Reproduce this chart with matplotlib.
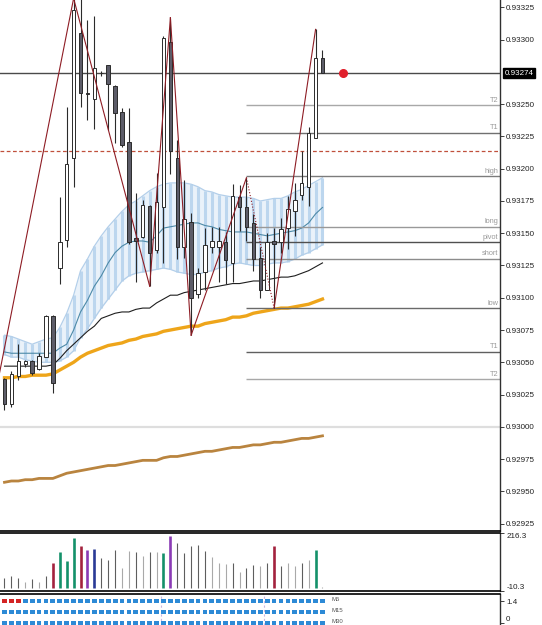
import numpy as np
import matplotlib
matplotlib.use("Agg")
import matplotlib.pyplot as plt

plt.rcParams["font.family"] = ["Liberation Sans", "DejaVu Sans"]

PT = 1e-5  # one price point; all price arrays below are in points (0.93037 -> 93037)

# ----- candles -----
open_pts = [93037, 93018, 93039, 93049, 93051, 93045, 93054, 93086, 93123, 93145,
            93208, 93305, 93259, 93254, 93274, 93280, 93264, 93244, 93221, 93146,
            93147, 93171, 93137, 93170, 93298, 93208, 93139, 93159, 93103, 93120,
            93139, 93139, 93143, 93127, 93178, 93170, 93158, 93131, 93106, 93144,
            93143, 93154, 93167, 93180, 93186, 93224, 93286]
high_pts = [93038, 93043, 93064, 93052, 93052, 93057, 93087, 93087, 93178, 93248,
            93332, 93332, 93315, 93318, 93276, 93280, 93265, 93247, 93247, 93181,
            93176, 93172, 93197, 93303, 93317, 93222, 93191, 93166, 93123, 93154,
            93155, 93155, 93151, 93188, 93187, 93193, 93165, 93139, 93150, 93154,
            93162, 93179, 93189, 93214, 93232, 93308, 93292]
low_pts = [93013, 93015, 93036, 93046, 93040, 93044, 93054, 93026, 93111, 93139,
           93186, 93248, 93238, 93231, 93272, 93230, 93220, 93217, 93142, 93112,
           93146, 93109, 93135, 93127, 93196, 93130, 93131, 93071, 93100, 93106,
           93135, 93112, 93111, 93112, 93152, 93144, 93121, 93100, 93106, 93092,
           93135, 93138, 93148, 93176, 93171, 93224, 93274]
close_pts = [93018, 93041, 93051, 93051, 93042, 93055, 93086, 93034, 93143, 93204,
             93323, 93259, 93258, 93278, 93274, 93266, 93243, 93218, 93143, 93144,
             93172, 93135, 93174, 93301, 93214, 93139, 93161, 93100, 93119, 93141,
             93144, 93144, 93129, 93179, 93170, 93155, 93130, 93106, 93143, 93142,
             93153, 93169, 93176, 93189, 93228, 93286, 93274]

# ----- indicators on the price panel -----
band_upper = [93071, 93070, 93068, 93066, 93064, 93066, 93068, 93069, 93077, 93088,
              93102, 93121, 93130, 93140, 93148, 93155, 93161, 93167, 93172, 93175,
              93179, 93183, 93186, 93188, 93189, 93189, 93189, 93188, 93186, 93183,
              93182, 93180, 93179, 93178, 93178, 93178, 93177, 93175, 93176, 93177,
              93177, 93179, 93182, 93184, 93187, 93190, 93193]
band_lower = [93056, 93054, 93054, 93052, 93051, 93050, 93050, 93050, 93051, 93054,
              93059, 93069, 93076, 93084, 93092, 93099, 93106, 93113, 93117, 93119,
              93120, 93121, 93122, 93123, 93122, 93120, 93119, 93118, 93118, 93120,
              93121, 93123, 93124, 93126, 93127, 93126, 93125, 93125, 93126, 93127,
              93127, 93128, 93130, 93133, 93135, 93138, 93141]
band_mid = [93058, 93057, 93057, 93057, 93057, 93057, 93057, 93057, 93061, 93064,
            93075, 93089, 93098, 93109, 93117, 93127, 93135, 93140, 93143, 93144,
            93144, 93143, 93148, 93154, 93155, 93156, 93157, 93158, 93158, 93156,
            93155, 93153, 93152, 93151, 93151, 93151, 93150, 93149, 93148, 93149,
            93150, 93151, 93152, 93154, 93158, 93165, 93170]
ma_black = [93047, 93047, 93047, 93047, 93047, 93047, 93047, 93048, 93053, 93059,
            93064, 93069, 93074, 93078, 93084, 93086, 93088, 93089, 93089, 93091,
            93092, 93092, 93096, 93099, 93102, 93102, 93104, 93105, 93106, 93107,
            93108, 93109, 93110, 93111, 93111, 93112, 93113, 93113, 93114, 93115,
            93116, 93116, 93117, 93119, 93121, 93124, 93127]
ma_orange = [93038, 93038, 93039, 93039, 93040, 93040, 93040, 93041, 93044, 93047,
             93050, 93054, 93057, 93059, 93061, 93063, 93064, 93065, 93067, 93068,
             93070, 93071, 93072, 93074, 93075, 93076, 93077, 93078, 93078, 93080,
             93081, 93082, 93083, 93085, 93085, 93086, 93088, 93089, 93090, 93091,
             93092, 93092, 93093, 93094, 93095, 93097, 93099]
ma_brown = [92957, 92958, 92958, 92959, 92959, 92960, 92960, 92960, 92962, 92964,
            92965, 92966, 92967, 92968, 92969, 92970, 92970, 92971, 92972, 92973,
            92974, 92974, 92974, 92976, 92977, 92977, 92978, 92979, 92980, 92981,
            92981, 92982, 92983, 92984, 92984, 92985, 92986, 92986, 92987, 92988,
            92988, 92989, 92990, 92991, 92991, 92992, 92993]

# zigzag pivots (bar index, price); first pivot lies left of the visible bars
zz_idx = [-2, 10, 21, 24, 27, 35, 39, 45]
zz_pts = [93007, 93332, 93109, 93317, 93071, 93193, 93092, 93308]
zz_style = ["-", "-", "-", "-", "-", ":", "-"]

# pivot levels drawn from the bar where they start
level_start = 35
level_names = ["T2", "T1", "high", "long", "pivot", "short", "low", "T1", "T2"]
level_pts = [93249, 93228, 93194, 93155, 93143, 93130, 93092, 93058, 93037]
level_colors = ["#a8a8a8", "#707070", "#7c7c7c", "#999999", "#505050",
                "#8c8c8c", "#6a6a6a", "#606060", "#a8a8a8"]
dashed_level_pts = 93214
round_level_pts = 93000

price_ticks = [0.92925, 0.92950, 0.92975, 0.93000, 0.93025, 0.93050, 0.93075,
               0.93100, 0.93125, 0.93150, 0.93175, 0.93200, 0.93225, 0.93250,
               0.93300, 0.93325]

# ----- volume sub-window -----
volume = [39, 50, 42, 26, 37, 26, 48, 101, 144, 107,
          197, 166, 148, 152, 118, 109, 151, 79, 145, 142,
          128, 144, 142, 139, 203, 177, 140, 166, 168, 147,
          122, 101, 96, 101, 63, 81, 90, 87, 98, 164,
          89, 98, 88, 98, 109, 148, 7]
volume_kind = "dddldldrgggrpbdddlldldlgpdddddllldlddldrdlldlgl"
vol_max, vol_min = 216.3, -10.3

# ----- multi-timeframe squares -----
tf_names = ["M5", "M15", "M30"]
tf_states = ["RRRBBBBBBBBBBBBBBBBBBBBBBBBBBBBBBBBBBBBBBBBBBBB",
             "BBBBBBBBBBBBBBBBBBBBBBBBBBBBBBBBBBBBBBBBBBBBBBB",
             "BBBBBBBBBBBBBBBBBBBBBBBBBBBBBBBBBBBBBBBBBBBBBBB"]

# ====== drawing ======
W, H = 542, 625
fig = plt.figure(figsize=(W / 100, H / 100), dpi=100)


def px_axes(x0, y0, x1, y1):
    return fig.add_axes([x0 / W, 1 - y1 / H, (x1 - x0) / W, (y1 - y0) / H])


ax = px_axes(0, 0, 500, 531)
axv = px_axes(0, 533, 500, 591)
axi = px_axes(0, 594, 500, 625)
XLIM = (-0.65, 71.68)

o = np.array(open_pts) * PT
h = np.array(high_pts) * PT
l = np.array(low_pts) * PT
c = np.array(close_pts) * PT
idx = np.arange(len(o))
up = c >= o

# band (hatched light blue ribbon)
bu = np.array(band_upper) * PT
bl = np.array(band_lower) * PT
ax.fill_between(idx, bl, bu, color="#eaf2fa", lw=0, zorder=1)
ax.vlines(idx, bl, bu, color="#bcd6ee", lw=2.2, zorder=1)
ax.plot(idx, bu, color="#b3cfea", lw=0.9, zorder=1)
ax.plot(idx, bl, color="#b3cfea", lw=0.9, zorder=1)
ax.plot(idx, np.array(band_mid) * PT, color="#4d8aa8", lw=0.8, zorder=2)
ax.plot(idx, np.array(ma_black) * PT, color="#1e1e1e", lw=0.8, zorder=2)
ax.plot(idx, np.array(ma_orange) * PT, color="#eea51a", lw=2.4, zorder=2)
ax.plot(idx, np.array(ma_brown) * PT, color="#b9843f", lw=2.0, zorder=2)

# horizontal lines
ax.axhline(round_level_pts * PT, color="#dedede", lw=1.6, zorder=1)
ax.axhline(dashed_level_pts * PT, color="#c0503c", lw=0.9, ls=(0, (3, 2)), zorder=2)
ax.axhline(c[-1], color="#4a4a4a", lw=1.0, zorder=2)
for name, lv, col in zip(level_names, level_pts, level_colors):
    ax.hlines(lv * PT, level_start, XLIM[1], color=col, lw=1.0, zorder=2)
    ax.text(0.996, lv * PT + 1.2 * PT, name, transform=ax.get_yaxis_transform(),
            ha="right", va="bottom", fontsize=5.3, color="#9a9a9a")

# candles
ax.vlines(idx, l, h, color="#2b2b2b", lw=0.8, zorder=3)
ax.bar(idx, np.abs(c - o), bottom=np.minimum(o, c), width=0.5,
       color=np.where(up, "white", "#5c5c68"), edgecolor="#2b2b2b", lw=0.7, zorder=4)

# zigzag
for k, style in enumerate(zz_style):
    ax.plot(zz_idx[k:k + 2], np.array(zz_pts[k:k + 2]) * PT, color="#8e1c24",
            lw=0.8, ls=style, zorder=5)

# last price marker
ax.plot(idx[-1] + 3, c[-1], "o", color="#e0202c", ms=5.5, zorder=6)

ax.set_xlim(*XLIM)
ax.set_ylim(0.9291925, 0.9333075)
ax.yaxis.tick_right()
ax.set_yticks(price_ticks)
ax.set_yticklabels([f"{t:.5f}" for t in price_ticks])
ax.set_xticks([])
ax.annotate(f"{c[-1]:.5f}", xy=(1, c[-1]), xycoords=ax.get_yaxis_transform(),
            xytext=(3.2, 0), textcoords="offset points", ha="left", va="center",
            fontsize=5.8, color="white",
            bbox=dict(boxstyle="square,pad=0.2", fc="black", ec="black"))

# volume
kind_color = {"d": "#5e5e5e", "l": "#a9a9a9", "r": "#a3223e", "g": "#14916a",
              "p": "#8b3bb5", "b": "#2a3a96"}
vcols = [kind_color[k] for k in volume_kind]
vwid = [0.8 if k in "dl" else 1.9 for k in volume_kind]
axv.vlines(idx, 0, volume, colors=vcols, linewidths=vwid)
axv.set_xlim(*XLIM)
axv.set_ylim(vol_min, vol_max)
axv.yaxis.tick_right()
axv.set_yticks([vol_max, vol_min])
axv.set_yticklabels([f"{vol_max:.1f}", f"{vol_min:.1f}"])
axv.get_yticklabels()[0].set_va("top")
axv.get_yticklabels()[1].set_va("bottom")
axv.set_xticks([])

# timeframe squares
tf_rows = [1.4, 0.7, 0.0]
sq_color = {"R": "#d42424", "B": "#2d8ad6"}
for name, states, yrow in zip(tf_names, tf_states, tf_rows):
    xs = np.arange(len(states))
    axi.scatter(xs, np.full(len(states), yrow), marker="s", s=12,
                c=[sq_color[s] for s in states], linewidths=0, zorder=3)
    axi.text(len(states) + 0.3, yrow + 0.1, name, fontsize=4.3, color="#555555",
             va="center", ha="left")
for xv in [22.6, 37.6]:
    axi.axvline(xv, color="#c9b6e2", lw=0.8, ls=(0, (2, 2)), zorder=1)
axi.set_xlim(*XLIM)
axi.set_ylim(-0.13, 1.85)
axi.yaxis.tick_right()
axi.set_yticks([1.4, 0.0])
axi.set_yticklabels(["1.4", "0"])
axi.get_yticklabels()[1].set_va("bottom")
axi.set_xticks([])

for a in (ax, axv, axi):
    a.spines["left"].set_visible(False)
    a.spines["right"].set_color("#303030")
    a.spines["right"].set_linewidth(1.0)
    a.tick_params(axis="y", direction="out", length=3, width=0.6, pad=1.5,
                  labelsize=5.8, colors="#202020")
ax.spines["top"].set_visible(False)
ax.spines["bottom"].set_linewidth(1.2)
axv.spines["top"].set_linewidth(1.2)
axv.spines["bottom"].set_linewidth(1.2)
axi.spines["top"].set_linewidth(1.2)
axi.spines["bottom"].set_visible(False)

fig.savefig("out.png", dpi=100, facecolor="white")
